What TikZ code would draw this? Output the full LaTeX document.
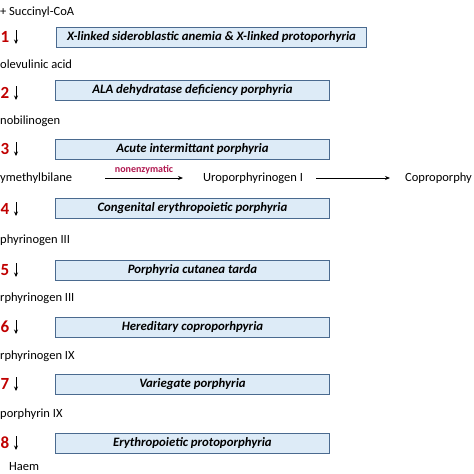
\documentclass[tikz,border=0pt]{standalone}
\usepackage{fontspec}
\setmainfont{Carlito}
\usetikzlibrary{arrows.meta}
\definecolor{boxfill}{HTML}{DDEBF7}
\definecolor{boxline}{HTML}{4A6A8F}
\definecolor{numred}{HTML}{C00000}
\definecolor{nonred}{HTML}{B0174F}
\begin{document}
\begin{tikzpicture}[x=1pt,y=-1pt,
  chem/.style={anchor=west,inner sep=0pt,font=\fontsize{12.5}{14}\selectfont},
  dbox/.style={draw=boxline,line width=0.9pt,fill=boxfill,inner sep=0pt,anchor=north west,
     minimum height=20pt,font=\fontsize{12.8}{14}\selectfont\bfseries\itshape},
  num/.style={anchor=west,inner sep=0pt,text=numred,font=\fontsize{17}{18}\selectfont\bfseries},
  down/.style={-{Stealth[length=4.5pt,width=4pt]},line width=0.9pt},
  harr/.style={-{Stealth[length=5pt,width=4pt]},line width=0.9pt}]
\useasboundingbox (0,0) rectangle (474,474);
\clip (0,0) rectangle (474,474);
% metabolites
\node[chem] (m0) at (0,12) {+ Succinyl-CoA};
\node[chem] (m1) at (0,64) {olevulinic acid};
\node[chem] (m2) at (0,121) {nobilinogen};
\node[chem] (m3) at (0,178) {ymethylbilane};
\node[chem] (m4) at (0,240) {phyrinogen III};
\node[chem] (m5) at (0,298) {rphyrinogen III};
\node[chem] (m6) at (0,356) {rphyrinogen IX};
\node[chem] (m7) at (0,414) {porphyrin IX};
\node[chem] (m8) at (9,467) {Haem};
% numbers
\node[num] (n1) at (0.5,37) {1};
\node[num] (n2) at (0.5,93) {2};
\node[num] (n3) at (0.5,149) {3};
\node[num] (n4) at (0.5,209) {4};
\node[num] (n5) at (0.5,270) {5};
\node[num] (n6) at (0.5,327) {6};
\node[num] (n7) at (0.5,384) {7};
\node[num] (n8) at (0.5,443) {8};
% down arrows
\foreach \y/\k in {37/1,93/2,149/3,209/4,270/5,327/6,384/7,443/8}{
  \coordinate (a\k) at (16,\y-7);
  \coordinate (b\k) at (16,\y+7);
  \draw[down] (a\k) -- (b\k);
}
% disease boxes
\node[dbox,minimum width=310pt] (d1) at (56,27) {X-linked sideroblastic anemia \& X-linked protoporhyria};
\node[dbox,minimum width=274pt] (d2) at (55,80) {ALA dehydratase deficiency porphyria};
\node[dbox,minimum width=274pt] (d3) at (55,139) {Acute intermittant porphyria};
\node[dbox,minimum width=274pt] (d4) at (55,198) {Congenital erythropoietic porphyria};
\node[dbox,minimum width=274pt] (d5) at (55,260) {Porphyria cutanea tarda};
\node[dbox,minimum width=274pt] (d6) at (55,317) {Hereditary coproporhpyria};
\node[dbox,minimum width=274pt] (d7) at (55,374) {Variegate porphyria};
\node[dbox,minimum width=274pt] (d8) at (55,433) {Erythropoietic protoporphyria};
% side branch
\node[chem] (uro) at (203,178) {Uroporphyrinogen I};
\node[chem] (copro) at (405,178) {Coproporphy};
\coordinate (h1) at (105,178);
\draw[harr] (h1) -- node[above=3pt,inner sep=0pt,text=nonred,font=\fontsize{10}{11}\selectfont\bfseries] (nonenz) {nonenzymatic} ([xshift=-20pt]uro.west);
\draw[harr] ([xshift=13pt]uro.east) -- ([xshift=-15pt]copro.west);
\end{tikzpicture}
\end{document}
